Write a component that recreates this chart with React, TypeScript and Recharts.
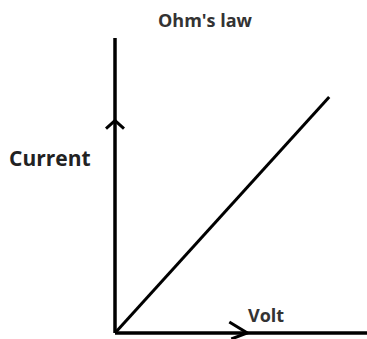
import React from "react";
import { LineChart, Line, XAxis, YAxis, ReferenceDot } from "recharts";

// Ohm's law: current rises linearly with voltage
const volts = [0, 85];
const currents = [0, 80];
const title = "Ohm's law";
const xTitle = "Volt";
const yTitle = "Current";

// direction markers sit on the axes
const yArrowAt = 72;
const xArrowAt = 52.5;

const data = volts.map((v, i) => ({ volt: v, current: currents[i] }));

const W = 367;
const H = 339;
const FONT = "'Open Sans', 'DejaVu Sans', sans-serif";

function UpArrow(props: any) {
  const { cx, cy } = props;
  return (
    <path
      d={`M${cx - 9},${cy + 8} L${cx},${cy} L${cx + 9},${cy + 8}`}
      fill="none"
      stroke="#000"
      strokeWidth={3}
    />
  );
}

function RightArrow(props: any) {
  const { cx, cy } = props;
  return (
    <path
      d={`M${cx - 18},${cy - 11} L${cx},${cy} L${cx - 16},${cy + 6}`}
      fill="none"
      stroke="#000"
      strokeWidth={3}
    />
  );
}

export default function App() {
  return (
    <div style={{ position: "absolute", left: 0, top: 0, width: W, height: H, background: "#fff", fontFamily: FONT }}>
      <LineChart width={W} height={H} data={data} margin={{ top: 38, right: 0, bottom: 5, left: 114 }} style={{ position: "absolute", left: 0, top: 0 }}>
        <XAxis
          dataKey="volt"
          type="number"
          domain={[0, 100]}
          height={1}
          tick={false}
          tickLine={false}
          axisLine={{ stroke: "#000", strokeWidth: 3.5 }}
        />
        <YAxis
          dataKey="current"
          type="number"
          domain={[0, 100]}
          width={1}
          tick={false}
          tickLine={false}
          axisLine={{ stroke: "#000", strokeWidth: 3.5 }}
        />
        <Line dataKey="current" stroke="#000" strokeWidth={3} dot={false} isAnimationActive={false} />
        <ReferenceDot x={0} y={yArrowAt} r={0} shape={UpArrow} ifOverflow="visible" />
        <ReferenceDot x={xArrowAt} y={0} r={0} shape={RightArrow} ifOverflow="visible" />
      </LineChart>
      <div style={{ position: "absolute", left: 158, top: 6, fontSize: 18, fontWeight: 700, color: "#333", lineHeight: "28px" }}>{title}</div>
      <div style={{ position: "absolute", left: 9, top: 143, fontSize: 21, fontWeight: 700, color: "#222", lineHeight: "30px" }}>{yTitle}</div>
      <div style={{ position: "absolute", left: 248, top: 302, fontSize: 18, fontWeight: 700, color: "#333", lineHeight: "26px" }}>{xTitle}</div>
    </div>
  );
}
